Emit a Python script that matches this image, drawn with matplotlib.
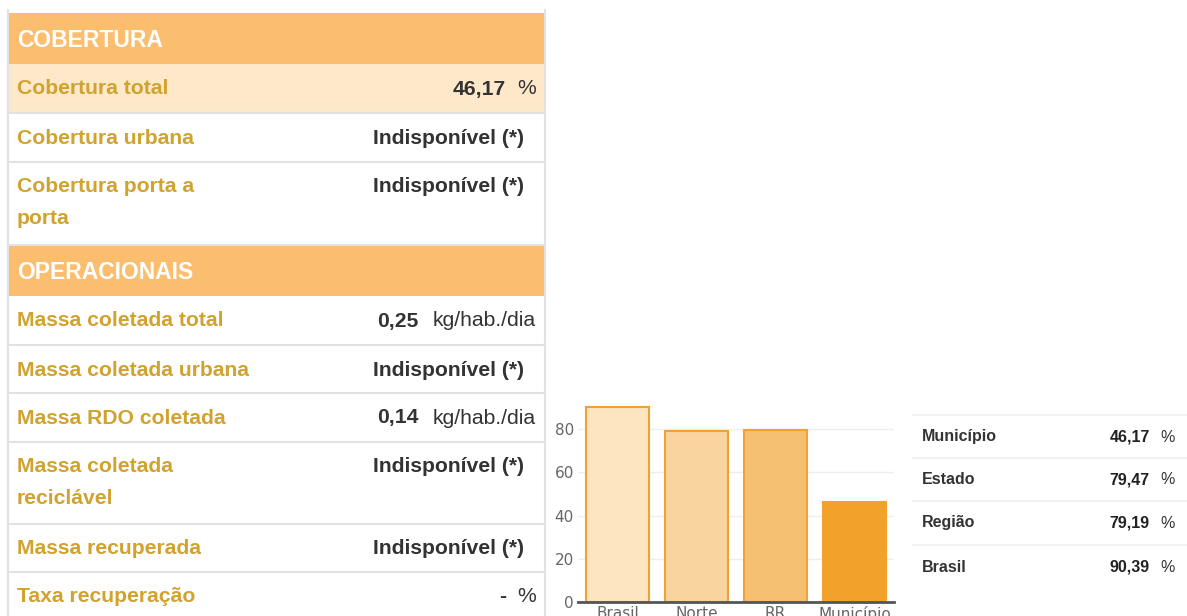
import matplotlib.pyplot as plt
from matplotlib.patches import Rectangle
from matplotlib import font_manager

# Table data (left panel)
cob_labels = ["Cobertura total", "Cobertura urbana", "Cobertura porta a\nporta"]
cob_values = ["46,17", "Indisponível (*)", "Indisponível (*)"]
cob_units = ["%", "", ""]

op_labels = ["Massa coletada total", "Massa coletada urbana", "Massa RDO coletada",
             "Massa coletada\nreciclável", "Massa recuperada", "Taxa recuperação"]
op_values = ["0,25", "Indisponível (*)", "0,14", "Indisponível (*)", "Indisponível (*)", "-"]
op_units = ["kg/hab./dia", "", "kg/hab./dia", "", "", "%"]

# Comparison chart data
categories = ["Brasil", "Norte", "RR", "Município"]
coverage = [90.39, 79.19, 79.47, 46.17]
bar_colors = ["#FDE5C2", "#F9D49E", "#F5C071", "#F2A22A"]

# Comparison table data (right panel)
cmp_labels = ["Município", "Estado", "Região", "Brasil"]
cmp_values = ["46,17", "79,47", "79,19", "90,39"]

# pick an Arial-like family if present
names = sorted({f.name for f in font_manager.fontManager.ttflist})
FONT = next((n for n in names if n.startswith("Liberation Sans") and "Narrow" not in n),
            "DejaVu Sans")

W, H = 1187, 616
fig = plt.figure(figsize=(W / 100, H / 100), dpi=100)
bg = fig.add_axes([0, 0, 1, 1])
bg.set_xlim(0, W)
bg.set_ylim(H, 0)
bg.axis("off")

HEAD = "#FBBD6E"
LIGHT = "#FDE9C9"
GOLD = "#D1A22E"
DARK = "#333333"
BORDER = "#E2E2E2"
FS = 15.2

x0, x1 = 8, 545
# outer border
bg.plot([x0, x0], [10, H], color=BORDER, lw=1.5)
bg.plot([x1, x1], [10, H], color=BORDER, lw=1.5)

value_right = {"%": 506, "kg/hab./dia": 419, "": 524}


def header(y, h, text):
    bg.add_patch(Rectangle((x0, y), x1 - x0, h, color=HEAD, lw=0))
    bg.text(17, y + h / 2 + 2, text, color="white", fontsize=16.5, fontweight="bold",
            family=FONT, va="center", ha="left")


def row(y, h, label, value, unit, fill=None):
    if fill:
        bg.add_patch(Rectangle((x0, y), x1 - x0, h, color=fill, lw=0))
    bg.plot([x0, x1], [y + h, y + h], color=BORDER, lw=1.5)
    for k, part in enumerate(label.split("\n")):
        bg.text(17, y + 25 + 31 * k, part, color=GOLD, fontsize=FS, fontweight="bold",
                family=FONT, va="center", ha="left")
    vy = y + 25
    bg.text(value_right[unit], vy, value, color=DARK, fontsize=FS, fontweight="bold",
            family=FONT, va="center", ha="right")
    if unit:
        bg.text(536, vy, unit, color=DARK, fontsize=FS, family=FONT, va="center", ha="right")


header(13, 51, "COBERTURA")
cob_heights = [49, 49, 83]
y = 64
for i, (lab, val, un) in enumerate(zip(cob_labels, cob_values, cob_units)):
    row(y, cob_heights[i], lab, val, un, fill=LIGHT if i == 0 else None)
    y += cob_heights[i]

header(y, 51, "OPERACIONAIS")
y += 51
op_heights = [49, 48, 49, 82, 48, 50]
for i, (lab, val, un) in enumerate(zip(op_labels, op_values, op_units)):
    row(y, op_heights[i], lab, val, un)
    y += op_heights[i]

# Bar chart
ymax = 95
px_per_unit = (602 - 429) / 80
ax_h = ymax * px_per_unit
ax = fig.add_axes([578 / W, (H - 602) / H, 316 / W, ax_h / H])
xpos = range(len(categories))
ax.bar(xpos, coverage, width=0.8, color=bar_colors, edgecolor="#F2A233", linewidth=1.5,
       zorder=3)
ax.set_xlim(-0.5, 3.5)
ax.set_ylim(0, ymax)
ax.set_yticks([0, 20, 40, 60, 80])
ax.set_xticks(list(xpos))
ax.set_xticklabels(categories)
for v in [20, 40, 60, 80]:
    ax.axhline(v, color="#EEEEEE", lw=1, zorder=1)
for s in ["top", "right", "left"]:
    ax.spines[s].set_visible(False)
ax.spines["bottom"].set_color("#555555")
ax.spines["bottom"].set_linewidth(2)
ax.spines["bottom"].set_zorder(4)
ax.tick_params(axis="y", length=0, pad=3, labelsize=11, labelcolor="#666666")
ax.tick_params(axis="x", length=0, pad=3, labelsize=11, labelcolor="#666666")
ax.set_facecolor("none")

# Right comparison table
rx0, rx1 = 913, W
lines_y = [415, 458, 501, 545]
bg.plot([rx0, rx1], [lines_y[0], lines_y[0]], color="#EEEEEE", lw=1.2)
for i, (lab, val) in enumerate(zip(cmp_labels, cmp_values)):
    cy = lines_y[i] + 22
    bg.text(922, cy, lab, color=DARK, fontsize=11.5, fontweight="bold", family=FONT,
            va="center", ha="left")
    bg.text(1150, cy, val, color="#222222", fontsize=11.5, fontweight="bold", family=FONT,
            va="center", ha="right")
    bg.text(1175, cy, "%", color=DARK, fontsize=11.5, family=FONT, va="center", ha="right")
    if i < 3:
        bg.plot([rx0, rx1], [lines_y[i + 1], lines_y[i + 1]], color="#EEEEEE", lw=1.2)

fig.savefig("out.png", dpi=100)
